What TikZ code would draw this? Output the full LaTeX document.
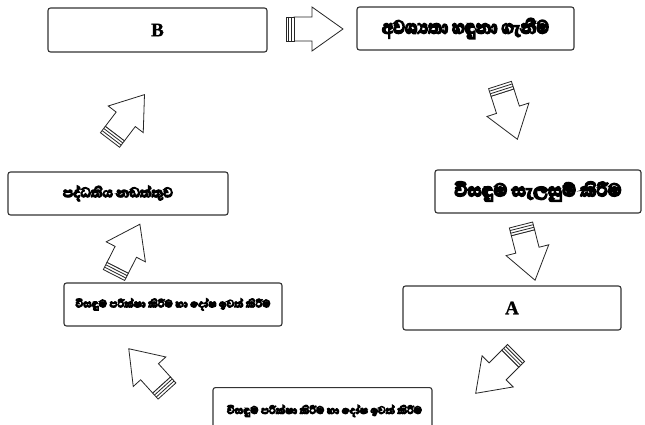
\documentclass[tikz,border=0pt]{standalone}
\usepackage{fontspec}
\usepackage{graphicx}
\usetikzlibrary{calc}
\newfontfamily\sinfont[Script=Sinhala,FakeBold=8]{Abhaya Libre}
\newfontfamily\latfont[FakeBold=1]{Liberation Serif}
\newcommand{\sfit}[2]{\resizebox{#1}{!}{\sinfont\bfseries #2}}
\newcommand{\sfitt}[3]{\resizebox{#1}{#2}{\sinfont\bfseries #3}}
\newcommand{\blockarrow}[2]{%
  \path let \p1=($(#2)-(#1)$), \n1={atan2(\y1,\x1)} in (#1) pic[rotate=\n1] {barrow};}
\tikzset{
  x=1pt, y=-1pt,
  box/.style={draw=black!80, line width=1.1pt, rounded corners=2.5pt, inner sep=0pt, fill=white},
  bigletter/.style={font=\fontsize{19}{20}\latfont\bfseries},
  arrowline/.style={draw=black!85, line width=0.8pt, fill=white, line join=miter},
  barrow/.pic={
    \draw[arrowline] (8,12) -- (26,12) -- (26,22) -- (57,0) -- (26,-22) -- (26,-12) -- (8,-12) -- cycle;
    \draw[arrowline] (0,-12) rectangle (8,12);
    \draw[arrowline] (2.7,-12) -- (2.7,12) (5.4,-12) -- (5.4,12);
  }
}
\begin{document}
\begin{tikzpicture}
\useasboundingbox (0,0) rectangle (645,425);
\fill[white] (0,0) rectangle (645,425);
\clip (0,0) rectangle (645,425);
% boxes
\node[box, minimum width=219pt, minimum height=44pt, bigletter] (B) at (157.5,30) {B};
\node[box, minimum width=217pt, minimum height=43pt] (R1) at (465.5,28.5) {\sfitt{167pt}{15pt}{අවශ්‍යතා හඳුනා ගැනීම}};
\node[box, minimum width=206pt, minimum height=43pt] (R2) at (538,191.5) {\sfit{167pt}{විසඳුම සැලසුම් කිරීම}};
\node[box, minimum width=218pt, minimum height=44pt, bigletter] (A) at (512,308) {\raisebox{-3pt}{A}};
\node[box, minimum width=219pt, minimum height=45pt, anchor=north] (Bot) at (322.5,387) {};
\node (BotText) at (324.5,411) {\sfit{195pt}{විසඳුම පරීක්ෂා කිරීම හා දෝෂ ඉවත් කිරීම}};
\node[box, minimum width=218pt, minimum height=43pt] (L2) at (173,304.5) {\sfit{195pt}{විසඳුම පරීක්ෂා කිරීම හා දෝෂ ඉවත් කිරීම}};
\node[box, minimum width=220pt, minimum height=43pt] (L1) at (118,193.5) {\sfit{110pt}{පද්ධතිය නඩත්තුව}};
% arrow end points
\coordinate (t1) at (286,29);  \coordinate (h1) at (342,29);
\coordinate (t2) at (500,85);  \coordinate (h2) at (517,138);
\coordinate (t3) at (521,225); \coordinate (h3) at (535,280);
\coordinate (t4) at (516,353); \coordinate (h4) at (476,393);
\coordinate (t5) at (167,391); \coordinate (h5) at (129,349);
\coordinate (t6) at (114,275); \coordinate (h6) at (140,224);
\coordinate (t7) at (110,140); \coordinate (h7) at (148,90);
\blockarrow{t1}{h1}
\blockarrow{t2}{h2}
\blockarrow{t3}{h3}
\blockarrow{t4}{h4}
\blockarrow{t5}{h5}
\blockarrow{t6}{h6}
\blockarrow{t7}{h7}
\end{tikzpicture}
\end{document}
